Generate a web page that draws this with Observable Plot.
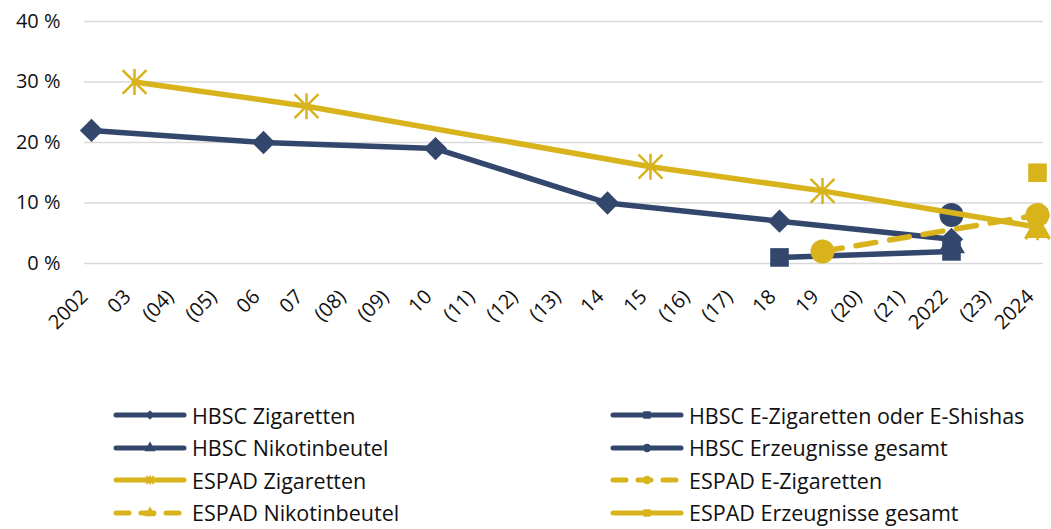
<!DOCTYPE html>
<html>
<head>
<meta charset="utf-8">
<script src="https://cdn.jsdelivr.net/npm/d3@7"></script>
<script src="https://cdn.jsdelivr.net/npm/@observablehq/plot@0.6"></script>
<style>
  html, body { margin: 0; padding: 0; background: #fff; }
  body { width: 1051px; height: 529px; position: relative; overflow: hidden; font-family: "Open Sans", "Noto Sans", sans-serif; }
  #chart { position: absolute; left: 0; top: 0; }
  #chart svg text { font-size: 20px !important; fill: #111; }
  #legend { position: absolute; left: 0; top: 400px; width: 1051px; }
  .item { position: absolute; display: flex; align-items: center; font-size: 21.5px; color: #111; white-space: nowrap; }
  .item svg { margin-right: 4px; }
</style>
</head>
<body>
<div id="chart"></div>
<div id="legend"></div>
<script>
const years = ["2002","03","(04)","(05)","06","07","(08)","(09)","10","(11)","(12)","(13)","14","15","(16)","(17)","18","19","(20)","(21)","2022","(23)","2024"];
const yTicks = [0, 10, 20, 30, 40];

// values per category (null = no survey)
const hbscZigaretten   = [22,null,null,null,20,null,null,null,19,null,null,null,10,null,null,null,7,null,null,null,4,null,null];
const hbscEZigaretten  = [null,null,null,null,null,null,null,null,null,null,null,null,null,null,null,null,1,null,null,null,2,null,null];
const hbscNikotin      = [null,null,null,null,null,null,null,null,null,null,null,null,null,null,null,null,null,null,null,null,3,null,null];
const hbscGesamt       = [null,null,null,null,null,null,null,null,null,null,null,null,null,null,null,null,null,null,null,null,8,null,null];
const espadZigaretten  = [null,30,null,null,null,26,null,null,null,null,null,null,null,16,null,null,null,12,null,null,null,null,6];
const espadEZigaretten = [null,null,null,null,null,null,null,null,null,null,null,null,null,null,null,null,null,2,null,null,null,null,8];
const espadNikotin     = [null,null,null,null,null,null,null,null,null,null,null,null,null,null,null,null,null,null,null,null,null,null,5.5];
const espadGesamt      = [null,null,null,null,null,null,null,null,null,null,null,null,null,null,null,null,null,null,null,null,null,null,15];

const NAVY = "#33476d";
const GOLD = "#d8b31c";

// Excel-style star: vertical bar plus an X
const star = {
  draw(context, size) {
    const r = Math.sqrt(size / Math.PI);
    const d = r * 0.92;
    context.moveTo(0, -r); context.lineTo(0, r);
    context.moveTo(-d, -d); context.lineTo(d, d);
    context.moveTo(-d, d); context.lineTo(d, -d);
  }
};

const series = [
  {name: "HBSC Zigaretten", values: hbscZigaretten, color: NAVY, symbol: "diamond2", r: 10.5, dash: null},
  {name: "HBSC E-Zigaretten oder E-Shishas", values: hbscEZigaretten, color: NAVY, symbol: "square", r: 10.5, dash: null},
  {name: "HBSC Nikotinbeutel", values: hbscNikotin, color: NAVY, symbol: "triangle", r: 10, dash: null},
  {name: "HBSC Erzeugnisse gesamt", values: hbscGesamt, color: NAVY, symbol: "circle", r: 12, dash: null},
  {name: "ESPAD Zigaretten", values: espadZigaretten, color: GOLD, symbol: "star", r: 13, dash: null},
  {name: "ESPAD E-Zigaretten", values: espadEZigaretten, color: GOLD, symbol: "circle", r: 12, dash: "20,14"},
  {name: "ESPAD Nikotinbeutel", values: espadNikotin, color: GOLD, symbol: "triangle", r: 10, dash: "20,14"},
  {name: "ESPAD Erzeugnisse gesamt", values: espadGesamt, color: GOLD, symbol: "square", r: 10.5, dash: null}
];

const marks = [
  Plot.ruleY(yTicks, {stroke: "#d9d9d9", strokeWidth: 1.5})
];
for (const s of series) {
  const pts = years.map((c, i) => ({cat: c, v: s.values[i]})).filter(d => d.v != null);
  if (pts.length > 1) {
    marks.push(Plot.line(pts, {x: "cat", y: "v", stroke: s.color, strokeWidth: 5.5, strokeLinecap: "round", strokeLinejoin: "round", strokeDasharray: s.dash || undefined}));
  }
  if (s.symbol === "star") {
    marks.push(Plot.dot(pts, {x: "cat", y: "v", symbol: star, r: s.r, stroke: s.color, strokeWidth: 2.5, fill: "none"}));
  } else {
    marks.push(Plot.dot(pts, {x: "cat", y: "v", symbol: s.symbol, r: s.r, fill: s.color, stroke: "none"}));
  }
}

const chart = Plot.plot({
  width: 1051,
  height: 395,
  marginLeft: 84,
  marginRight: 8,
  marginTop: 21,
  marginBottom: 132,
  style: {fontFamily: "'Open Sans', 'Noto Sans', sans-serif", fontSize: "20px", color: "#111", overflow: "visible"},
  x: {type: "point", domain: years, padding: 0, label: null},
  y: {domain: [0, 40], ticks: yTicks, label: null},
  marks: [
    ...marks,
    Plot.axisY({ticks: yTicks, tickFormat: d => d + " %", tickSize: 0, tickPadding: 24, fontSize: 20, label: null}),
    Plot.axisX({tickSize: 0, tickRotate: -45, tickPadding: 24, fontSize: 20, dx: -7, dy: 6, label: null})
  ]
});
document.getElementById("chart").appendChild(chart);

// legend
const legend = document.getElementById("legend");
const d3sym = {diamond2: d3.symbolDiamond2, square: d3.symbolSquare, triangle: d3.symbolTriangle, circle: d3.symbolCircle, star: star};
const layout = [
  [0, 0, 0], [1, 1, 0], [2, 0, 1], [3, 1, 1], [4, 0, 2], [5, 1, 2], [6, 0, 3], [7, 1, 3]
];
for (const [idx, col, row] of layout) {
  const s = series[idx];
  const div = document.createElement("div");
  div.className = "item";
  div.style.left = (col === 0 ? 112 : 609) + "px";
  div.style.top = (row * 32.5) + "px";
  const svg = d3.create("svg").attr("width", 76).attr("height", 30);
  svg.append("line").attr("x1", 4).attr("x2", 72).attr("y1", 15).attr("y2", 15)
    .attr("stroke", s.color).attr("stroke-width", 5).attr("stroke-linecap", "round")
    .attr("stroke-dasharray", s.dash ? "13,12" : null);
  const path = d3.symbol(d3sym[s.symbol]).size(Math.PI * 4.2 * 4.2)();
  const p = svg.append("path").attr("d", path).attr("transform", "translate(38,15)");
  if (s.symbol === "star") p.attr("fill", "none").attr("stroke", s.color).attr("stroke-width", 2);
  else p.attr("fill", s.color);
  div.appendChild(svg.node());
  const span = document.createElement("span");
  span.textContent = s.name;
  div.appendChild(span);
  legend.appendChild(div);
}
</script>
</body>
</html>
